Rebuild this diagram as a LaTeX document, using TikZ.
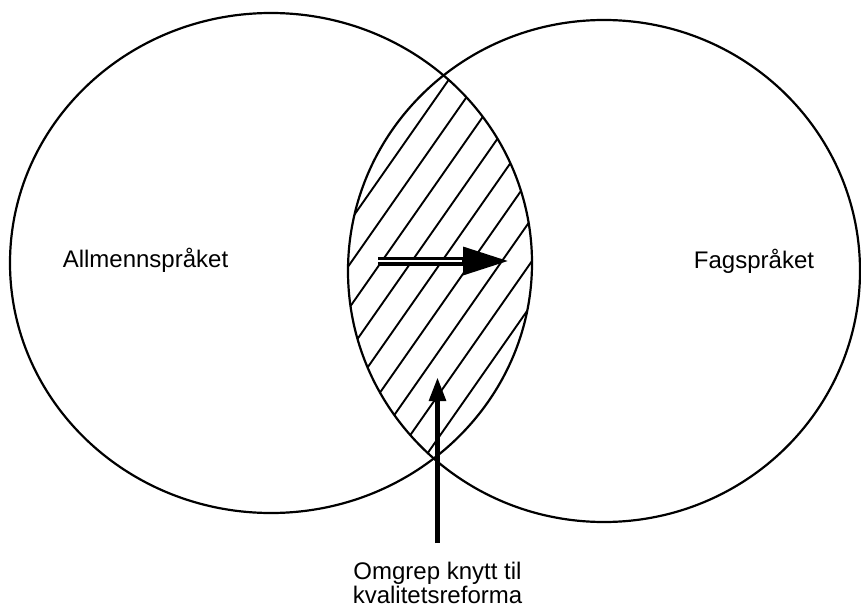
\documentclass[tikz,border=0pt]{standalone}
\usepackage{fontspec}
\setmainfont{Liberation Sans}
\usepackage{tikz}
\usetikzlibrary{arrows.meta}

\begin{document}
\begin{tikzpicture}[x=1pt,y=-1pt,
    sirkel/.style={line width=2.2pt},
    skravur/.style={line width=1.9pt},
    etikett/.style={font=\fontsize{24}{24}\selectfont, inner sep=0pt, anchor=base}]

        \useasboundingbox (0,0) rectangle (861,612);%hele bildet
        \draw[sirkel](271,263) ellipse [x radius=261pt, y radius=250pt];%venstre sirkel
        \draw[sirkel](604,271) ellipse [x radius=256pt, y radius=251pt];%høyre sirkel

        %skravur i snittet
        \begin{scope}
            \clip (271,263) ellipse [x radius=261pt, y radius=250pt];
            \clip (604,271) ellipse [x radius=256pt, y radius=251pt];
            \foreach \k in {-7,...,8}
                \draw[skravur]({412+30*\k-172},507)--({412+30*\k+172},15);
        \end{scope}

        %tekst
        \node[etikett](allmenn) at (145.5,267){Allmennspråket};
        \node[etikett](fag) at (754,268){Fagspråket};
        \node[font=\fontsize{24}{24}\selectfont, align=center, anchor=north, inner xsep=0pt, inner ysep=19pt](reform) at (437.5,543){Omgrep knytt til\\kvalitetsreforma};

        %piler
        \coordinate (dobbelstart) at (378,261);
        \coordinate (dobbeltupp) at (510,261);
        \coordinate (pilspiss) at (437.5,377);
        \draw[line width=9pt,-{Triangle[length=47pt,width=26pt]}](dobbelstart)--(dobbeltupp);
        \draw[white,line width=2.5pt,shorten >=48pt](dobbelstart)--(dobbeltupp);%hvit stripe gir dobbel strek
        \draw[line width=5.5pt,-{Triangle[length=24pt,width=16pt]}](reform.north)--(pilspiss);
    \end{tikzpicture}
\end{document}
